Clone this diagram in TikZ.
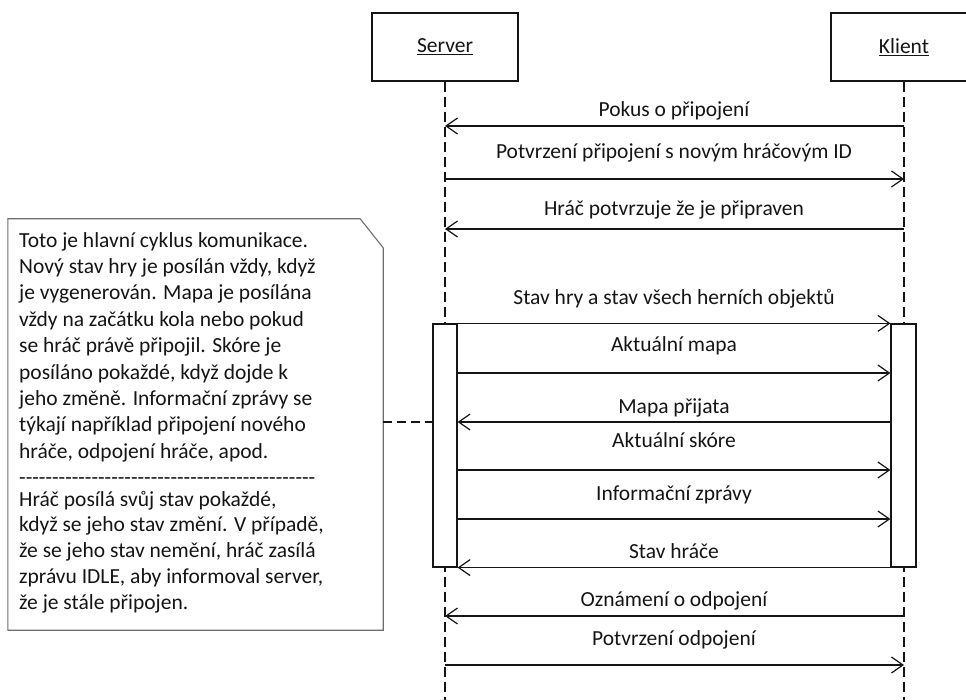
\documentclass[tikz,border=0pt]{standalone}
\usepackage{fontspec}
\setmainfont{Carlito}
\usetikzlibrary{arrows.meta}
\definecolor{ink}{HTML}{151515}
\definecolor{notegray}{HTML}{6E6E6E}
% a row of plain hyphens (kept apart so they never join into dashes)
\newcommand\hyphenrow[1]{\foreach \i in {1,...,#1}{\mbox{-}}}
\begin{document}
\begin{tikzpicture}[x=1pt,y=-1pt,
  every node/.style={font=\fontsize{21.5}{26.4}\selectfont, text=ink},
  actor/.style={draw=ink, line width=1.3pt, fill=white, minimum width=146pt,
    minimum height=68pt, inner sep=0pt},
  lifeline/.style={draw=ink, line width=1.2pt, dash pattern=on 10pt off 5pt},
  actbar/.style={draw=ink, line width=1.2pt, fill=white, minimum height=243pt,
    inner sep=0pt},
  msg/.style={draw=ink, line width=1.2pt, -{Straight Barb[length=11.5pt,width=16pt]}},
  msglabel/.style={anchor=base, inner sep=0pt},
  notelink/.style={draw=ink, line width=1.2pt, dash pattern=on 9pt off 5pt},
  notebox/.style={minimum width=375pt, minimum height=411pt, inner sep=0pt},
]
\useasboundingbox (0,0) rectangle (966,700);
\clip (0,0) rectangle (966,700);

% participants
\node[actor] (srv) at (445,47) {\underline{Server}};
\node[actor] (kli) at (904,47) {\underline{Klient}};

% lifelines
\coordinate (srvEnd) at (445,705);
\coordinate (kliEnd) at (904,705);
\draw[lifeline] (srv.south) -- (srvEnd);
\draw[lifeline] (kli.south) -- (kliEnd);

% activation bars of the main loop
\node[actbar, minimum width=24pt] (sbar) at (445,445.5) {};
\node[actbar, minimum width=25pt] (kbar) at (903.5,445.5) {};

% connection handshake
\node[msglabel] (l1) at (674,117) {Pokus o připojení};
\draw[msg] (kli |- 0,126) -- (srv |- 0,126);
\node[msglabel] (l2) at (674,159) {Potvrzení připojení s novým hráčovým ID};
\draw[msg] (srv |- 0,179) -- (kli |- 0,179);
\node[msglabel] (l3) at (674,216) {Hráč potvrzuje že je připraven};
\draw[msg] (kli |- 0,229) -- (srv |- 0,229);

% main loop
\node[msglabel] (l4) at (674,305) {Stav hry a stav všech herních objektů};
\draw[msg] (sbar.north east) -- (kbar.north west);
\node[msglabel] (l5) at (674,352) {Aktuální mapa};
\draw[msg] (sbar.east |- 0,373) -- (kbar.west |- 0,373);
\node[msglabel] (l6) at (674,413) {Mapa přijata};
\draw[msg] (kbar.west |- 0,422) -- (sbar.east |- 0,422);
\node[msglabel] (l7) at (674,447) {Aktuální skóre};
\draw[msg] (sbar.east |- 0,470) -- (kbar.west |- 0,470);
\node[msglabel] (l8) at (674,500) {Informační zprávy};
\draw[msg] (sbar.east |- 0,519) -- (kbar.west |- 0,519);
\node[msglabel] (l9) at (674,558) {Stav hráče};
\draw[msg] (kbar.south west) -- (sbar.south east);

% disconnection
\node[msglabel] (l10) at (674,606) {Oznámení o odpojení};
\draw[msg] (kli |- 0,616) -- (srv |- 0,616);
\node[msglabel] (l11) at (674,645) {Potvrzení odpojení};
\draw[msg] (srv |- 0,665) -- (kli |- 0,665);

% note with folded corner
\node[notebox] (note) at (195.5,424.5) {};
\draw[notegray, line width=1.1pt, fill=white]
  (note.north west) -- ([xshift=-23pt]note.north east)
  -- ([yshift=-29pt]note.north east) -- (note.south east)
  -- (note.south west) -- cycle;
\node[anchor=north west, align=left, inner sep=0pt] (notetext) at (19,232)
 {Toto je hlavní cyklus komunikace.\\
  Nový stav hry je posílán vždy, když\\
  je vygenerován. Mapa je posílána\\
  vždy na začátku kola nebo pokud\\
  se hráč právě připojil. Skóre je\\
  posíláno pokaždé, když dojde k\\
  jeho změně. Informační zprávy se\\
  týkají například připojení nového\\
  hráče, odpojení hráče, apod.\\[0pt]
  \hyphenrow{45}\\[-5pt]
  Hráč posílá svůj stav pokaždé,\\[-0.6pt]
  když se jeho stav změní. V případě,\\[-0.6pt]
  že se jeho stav nemění, hráč zasílá\\[-0.6pt]
  zprávu IDLE, aby informoval server,\\[-0.6pt]
  že je stále připojen.};
\draw[notelink] (note.east |- 0,422) -- (sbar.west |- 0,422);
\end{tikzpicture}
\end{document}
